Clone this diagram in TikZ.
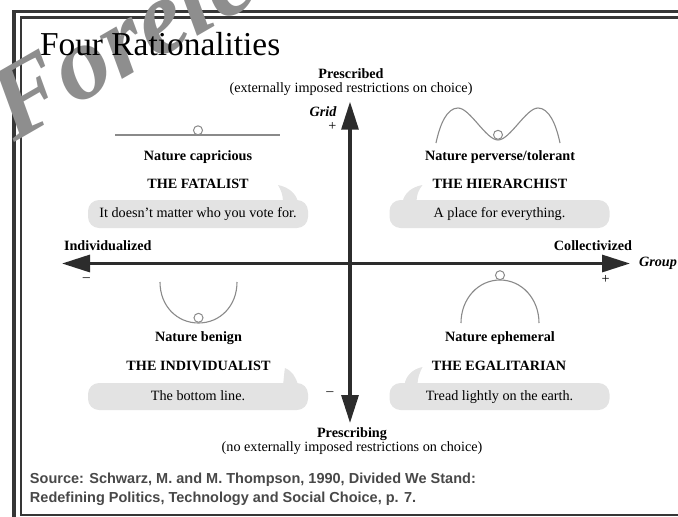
\documentclass[tikz,border=0pt]{standalone}
\usepackage{fontspec}
\setmainfont{Liberation Serif}
\setsansfont{Liberation Sans}
\usetikzlibrary{arrows.meta}
\definecolor{framegray}{HTML}{363636}
\definecolor{axisgray}{HTML}{2C2C2C}
\definecolor{curvegray}{HTML}{8A8A8A}
\definecolor{bubblegray}{HTML}{E3E3E3}
\definecolor{sourcegray}{HTML}{484848}
\definecolor{stampgray}{HTML}{8E8E8E}
\newcommand{\bodysize}{\fontsize{14.2}{17}\selectfont}
\begin{document}
\begin{tikzpicture}[x=1pt,y=-1pt,
  every node/.style={inner sep=0pt, outer sep=0pt},
  head/.style={font=\bodysize\bfseries, anchor=base},
  plain/.style={font=\bodysize, anchor=base},
  axisline/.style={line width=3.2pt, draw=axisgray,
    {Triangle[length=28pt,width=17pt]}-{Triangle[length=28pt,width=17pt]}},
  landscape/.style={draw=curvegray, line width=1.1pt},
  ball/.style={circle, draw=curvegray, fill=white, line width=1pt, minimum size=9pt},
  bubble/.style={fill=bubblegray, rounded corners=11pt, font=\bodysize,
    minimum width=220pt, text height=10pt, text depth=3pt},
  tail/.style={fill=bubblegray},
  sourceline/.style={anchor=base west, text=sourcegray,
    font=\sffamily\bfseries\fontsize{14.5}{18}\selectfont},
]
\useasboundingbox (0,0) rectangle (678,517);

% double frame, with the stamp lying over it
\begin{scope}
  \clip (0,0) rectangle (678,517);
  \draw[framegray, line width=3.5pt] (14,11.3) rectangle (720,524);
  \draw[framegray, line width=2.2pt] (21,17.5) rectangle (710,515);
  \node[anchor=base west, rotate=30, text=stampgray,
        font=\fontsize{105}{105}\selectfont\bfseries\itshape] (stamp) at (14,142) {Forelesning};
\end{scope}

% title
\node[anchor=base west, font=\fontsize{33.4}{36}\selectfont] (title) at (40,55) {Four Rationalities};

% axes
\coordinate (gridtop) at (350,101.7);
\coordinate (gridbot) at (350,423);
\coordinate (groupleft) at (62,263.5);
\coordinate (groupright) at (630,263.5);
\draw[axisline] (groupleft) -- (groupright);
\draw[axisline] (gridbot) -- (gridtop);

% axis labels
\node[head] (prescribed) at (351,78) {Prescribed};
\node[plain] (prescribednote) at (351,92) {(externally imposed restrictions on choice)};
\node[head] (prescribing) at (352,437.5) {Prescribing};
\node[plain] (prescribingnote) at (352,451.5) {(no externally imposed restrictions on choice)};
\node[font=\bodysize\bfseries\itshape, anchor=base] (grid) at (323,116.5) {Grid};
\node[font=\bodysize] (gridplus) at (332.5,126.5) {+};
\node[font=\bodysize] (gridminus) at (330,394) {–};
\node[head, anchor=base west] (individualized) at (64,250) {Individualized};
\node[head, anchor=base east] (collectivized) at (632,250) {Collectivized};
\node[font=\bodysize\bfseries\itshape, anchor=base west] (group) at (639,266) {Group};
\node[font=\bodysize] (groupminus) at (86.5,280) {–};
\node[font=\bodysize] (groupplus) at (605.5,279.5) {+};

% fatalist: nature capricious
\draw[landscape] (115,135) -- (280,135);
\node[ball] (fatball) at (198,130.3) {};
\node[head] (fatnature) at (198,160) {Nature capricious};
\node[head] (fatname) at (198,188) {THE FATALIST};
\fill[tail, shift={(308,200)}] (-25,2) .. controls (-25,-5) and (-27,-10) .. (-30,-15)
   .. controls (-20,-13) and (-12,-7) .. (-10,2) -- cycle;
\node[bubble, minimum height=28pt] (fatbub) at (198,214) {It doesn’t matter who you vote for.};

% hierarchist: nature perverse/tolerant
\draw[landscape] (436,143) .. controls (440,124) and (447,108) .. (458,108)
   .. controls (470,108) and (486,140) .. (498,140)
   .. controls (510,140) and (526,108) .. (538,108)
   .. controls (549,108) and (556,124) .. (560,143);
\node[ball] (hierball) at (498,134.8) {};
\node[head] (hiernature) at (500,160) {Nature perverse/tolerant};
\node[head] (hiername) at (500,188) {THE HIERARCHIST};
\fill[tail, shift={(389.5,200)}] (27,2) .. controls (27,-5) and (29,-10) .. (33,-15)
   .. controls (22,-13) and (15,-7) .. (13,2) -- cycle;
\node[bubble, minimum height=28pt] (hierbub) at (499.5,214) {A place for everything.};

% individualist: nature benign
\draw[landscape] (160,282) .. controls (160,306) and (177,323) .. (198.5,323)
   .. controls (220,323) and (237,306) .. (237,282);
\node[ball] (indball) at (198.5,317.8) {};
\node[head] (indnature) at (198.5,341.5) {Nature benign};
\node[head] (indname) at (198.5,370) {THE INDIVIDUALIST};
\fill[tail, shift={(308,383)}] (-25,2) .. controls (-24,-5) and (-24,-10) .. (-23,-15)
   .. controls (-16,-12) and (-12,-6) .. (-10,2) -- cycle;
\node[bubble, minimum height=27pt] (indbub) at (198,396.5) {The bottom line.};

% egalitarian: nature ephemeral
\draw[landscape] (461,323) .. controls (461,299) and (478,280) .. (500,280)
   .. controls (522,280) and (539,299) .. (539,323);
\node[ball] (egaball) at (500,275.2) {};
\node[head] (eganature) at (500,341.5) {Nature ephemeral};
\node[head] (eganame) at (499,370) {THE EGALITARIAN};
\fill[tail, shift={(389.5,383)}] (28,2) .. controls (28,-5) and (30,-10) .. (33,-16)
   .. controls (23,-14) and (16,-7) .. (15,2) -- cycle;
\node[bubble, minimum height=27pt] (egabub) at (499.5,396.5) {Tread lightly on the earth.};

% source
\node[sourceline] (source1) at (30,483) {Source: Schwarz, M. and M. Thompson, 1990, Divided We Stand:};
\node[sourceline] (source2) at (30,502) {Redefining Politics, Technology and Social Choice, p. 7.};
\end{tikzpicture}
\end{document}
